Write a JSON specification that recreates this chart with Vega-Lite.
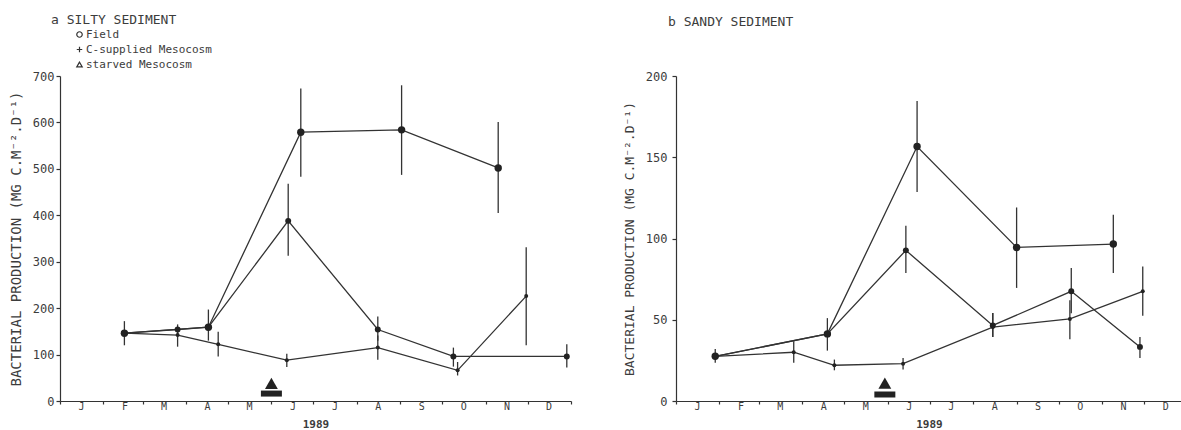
{
  "$schema": "https://vega.github.io/schema/vega-lite/v6.json",
  "background": "white",
  "padding": {"left": 9, "top": 13, "right": 0, "bottom": 0},
  "spacing": 105,
  "bounds": "flush",
  "resolve": {"scale": {"shape": "independent"}, "legend": {"shape": "independent"}},
  "config": {
    "view": {"stroke": null},
    "font": "DejaVu Sans Mono",
    "axis": {
      "grid": false,
      "domainColor": "#333",
      "domainWidth": 1.2,
      "tickColor": "#333",
      "tickWidth": 1.2,
      "labelColor": "#3c3c3c",
      "labelFont": "DejaVu Sans Mono",
      "labelFontSize": 11,
      "titleColor": "#3c3c3c",
      "titleFont": "DejaVu Sans Mono",
      "titleFontWeight": "normal"
    },
    "title": {
      "font": "DejaVu Sans Mono",
      "fontSize": 13,
      "fontWeight": "normal",
      "color": "#3c3c3c",
      "anchor": "start",
      "frame": "group"
    }
  },
  "datasets": {
    "silty": [
      {"series": "Field", "date": "1989-02-16", "value": 146, "lo": 120, "hi": 172},
      {"series": "Field", "date": "1989-04-17", "value": 159, "lo": 130, "hi": 197},
      {"series": "Field", "date": "1989-06-22", "value": 579, "lo": 483, "hi": 673},
      {"series": "Field", "date": "1989-09-02", "value": 584, "lo": 487, "hi": 680},
      {"series": "Field", "date": "1989-11-10", "value": 502, "lo": 405, "hi": 601},
      {"series": "C-supplied Mesocosm", "date": "1989-02-16", "value": 146, "lo": 146, "hi": 146},
      {"series": "C-supplied Mesocosm", "date": "1989-03-26", "value": 154, "lo": 140, "hi": 165},
      {"series": "C-supplied Mesocosm", "date": "1989-04-17", "value": 159, "lo": 159, "hi": 159},
      {"series": "C-supplied Mesocosm", "date": "1989-06-13", "value": 388, "lo": 313, "hi": 468},
      {"series": "C-supplied Mesocosm", "date": "1989-08-16", "value": 154, "lo": 130, "hi": 182},
      {"series": "C-supplied Mesocosm", "date": "1989-10-09", "value": 96, "lo": 74, "hi": 115},
      {"series": "C-supplied Mesocosm", "date": "1989-12-29", "value": 96, "lo": 72, "hi": 122},
      {"series": "starved Mesocosm", "date": "1989-02-16", "value": 146, "lo": 146, "hi": 146},
      {"series": "starved Mesocosm", "date": "1989-03-26", "value": 142, "lo": 117, "hi": 153},
      {"series": "starved Mesocosm", "date": "1989-04-24", "value": 122, "lo": 96, "hi": 149},
      {"series": "starved Mesocosm", "date": "1989-06-12", "value": 88, "lo": 73, "hi": 102},
      {"series": "starved Mesocosm", "date": "1989-08-16", "value": 115, "lo": 89, "hi": 141},
      {"series": "starved Mesocosm", "date": "1989-10-12", "value": 66, "lo": 55, "hi": 84},
      {"series": "starved Mesocosm", "date": "1989-11-30", "value": 226, "lo": 120, "hi": 331}
    ],
    "sandy": [
      {"series": "Field", "date": "1989-01-29", "value": 27.5, "lo": 23.5, "hi": 32},
      {"series": "Field", "date": "1989-04-19", "value": 41.3, "lo": 31, "hi": 51},
      {"series": "Field", "date": "1989-06-22", "value": 156.6, "lo": 128.6, "hi": 184.6},
      {"series": "Field", "date": "1989-09-01", "value": 94.5, "lo": 69.6, "hi": 119.1},
      {"series": "Field", "date": "1989-11-09", "value": 96.6, "lo": 78.8, "hi": 114.6},
      {"series": "C-supplied Mesocosm", "date": "1989-01-29", "value": 27.5, "lo": 27.5, "hi": 27.5},
      {"series": "C-supplied Mesocosm", "date": "1989-04-19", "value": 41.3, "lo": 41.3, "hi": 41.3},
      {"series": "C-supplied Mesocosm", "date": "1989-06-14", "value": 92.7, "lo": 78.8, "hi": 107.8},
      {"series": "C-supplied Mesocosm", "date": "1989-08-15", "value": 46.5, "lo": 39.4, "hi": 54.2},
      {"series": "C-supplied Mesocosm", "date": "1989-10-10", "value": 67.5, "lo": 54, "hi": 81.8},
      {"series": "C-supplied Mesocosm", "date": "1989-11-28", "value": 33.3, "lo": 26.5, "hi": 39.4},
      {"series": "starved Mesocosm", "date": "1989-01-29", "value": 27.5, "lo": 27.5, "hi": 27.5},
      {"series": "starved Mesocosm", "date": "1989-03-26", "value": 30, "lo": 23.5, "hi": 36.7},
      {"series": "starved Mesocosm", "date": "1989-04-24", "value": 22, "lo": 18.9, "hi": 25.5},
      {"series": "starved Mesocosm", "date": "1989-06-12", "value": 23, "lo": 19.4, "hi": 26.5},
      {"series": "starved Mesocosm", "date": "1989-08-15", "value": 45.5, "lo": 39.4, "hi": 54.2},
      {"series": "starved Mesocosm", "date": "1989-10-09", "value": 50.5, "lo": 38, "hi": 62},
      {"series": "starved Mesocosm", "date": "1989-11-30", "value": 67.5, "lo": 52.5, "hi": 82.8}
    ]
  },
  "hconcat": [
    {
      "width": 511,
      "height": 325,
      "title": {"text": "a SILTY SEDIMENT", "dx": -9, "offset": 2.5},
      "encoding": {
        "x": {
          "field": "date",
          "type": "temporal",
          "scale": {
            "type": "utc",
            "domain": [
              {"year": 1989, "month": 1, "date": 1, "utc": true},
              {"year": 1990, "month": 1, "date": 1, "utc": true}
            ]
          },
          "axis": {
            "title": "1989",
            "titleFontSize": 11,
            "titleFontWeight": "bold",
            "titlePadding": 7,
            "tickCount": {"interval": "month", "step": 1},
            "labelExpr": "utcyear(datum.value) > 1989 ? '' : upper(substring(utcFormat(datum.value, '%b'), 0, 1))",
            "labelOffset": 21,
            "labelFontSize": 10,
            "labelFlush": false,
            "labelOverlap": false,
            "labelBound": false,
            "labelPadding": -3,
            "tickSize": 3
          }
        }
      },
      "layer": [
        {
          "data": {"name": "silty"},
          "mark": {"type": "rule", "color": "#333", "strokeWidth": 1.3},
          "encoding": {
            "y": {
              "field": "lo",
              "type": "quantitative",
              "scale": {"domain": [0, 700], "nice": false},
              "axis": {
                "title": "BACTERIAL PRODUCTION (MG C.M⁻².D⁻¹)",
                "titleFontSize": 14,
                "titlePadding": 9,
                "values": [0, 100, 200, 300, 400, 500, 600, 700],
                "labelFontSize": 12,
                "tickSize": 4,
                "labelPadding": 2
              }
            },
            "y2": {"field": "hi"}
          }
        },
        {
          "data": {"name": "silty"},
          "mark": {"type": "line", "color": "#333", "strokeWidth": 1.3},
          "encoding": {
            "y": {"field": "value", "type": "quantitative"},
            "detail": {"field": "series"}
          }
        },
        {
          "data": {"name": "silty"},
          "mark": {"type": "point", "filled": true, "color": "#222", "opacity": 1},
          "encoding": {
            "y": {"field": "value", "type": "quantitative"},
            "size": {
              "field": "series",
              "scale": {"domain": ["Field", "C-supplied Mesocosm", "starved Mesocosm"], "range": [55, 16, 16]},
              "legend": null
            }
          }
        },
        {
          "data": {"name": "silty"},
          "mark": {"type": "point", "strokeOpacity": 0, "fillOpacity": 0},
          "encoding": {
            "y": {"field": "value", "type": "quantitative"},
            "shape": {
              "field": "series",
              "type": "nominal",
              "scale": {
                "domain": ["Field", "C-supplied Mesocosm", "starved Mesocosm"],
                "range": ["circle", "M-1,0L1,0M0,-1L0,1", "triangle-up"]
              },
              "legend": {
                "orient": "none",
                "legendX": 14,
                "legendY": -47,
                "title": null,
                "labelFont": "DejaVu Sans Mono",
                "labelFontSize": 11,
                "labelColor": "#3c3c3c",
                "labelOffset": 1,
                "symbolSize": 30,
                "symbolStrokeWidth": 1.2,
                "symbolStrokeColor": "#333",
                "symbolFillColor": "transparent",
                "symbolOpacity": 1,
                "rowPadding": 3
              }
            }
          }
        },
        {
          "data": {"values": [{"date": "1989-06-01"}]},
          "mark": {"type": "point", "shape": "triangle-up", "filled": true, "color": "#222", "opacity": 1, "size": 165},
          "encoding": {"y": {"datum": 38, "type": "quantitative"}}
        },
        {
          "data": {"values": [{"date": "1989-06-01"}]},
          "mark": {"type": "tick", "orient": "horizontal", "color": "#222", "opacity": 1, "size": 21, "thickness": 6},
          "encoding": {"y": {"datum": 16, "type": "quantitative"}}
        }
      ]
    },
    {
      "width": 506,
      "height": 325,
      "title": {"text": "b SANDY SEDIMENT", "dx": -8, "offset": 41.5},
      "encoding": {
        "x": {
          "field": "date",
          "type": "temporal",
          "scale": {
            "type": "utc",
            "domain": [
              {"year": 1989, "month": 1, "date": 1, "utc": true},
              {"year": 1989, "month": 12, "date": 28, "utc": true}
            ]
          },
          "axis": {
            "title": "1989",
            "titleFontSize": 11,
            "titleFontWeight": "bold",
            "titlePadding": 7,
            "tickCount": {"interval": "month", "step": 1},
            "labelExpr": "utcyear(datum.value) > 1989 ? '' : upper(substring(utcFormat(datum.value, '%b'), 0, 1))",
            "labelOffset": 21,
            "labelFontSize": 10,
            "labelFlush": false,
            "labelOverlap": false,
            "labelBound": false,
            "labelPadding": -3,
            "tickSize": 3
          }
        }
      },
      "layer": [
        {
          "data": {"name": "sandy"},
          "mark": {"type": "rule", "color": "#333", "strokeWidth": 1.3},
          "encoding": {
            "y": {
              "field": "lo",
              "type": "quantitative",
              "scale": {"domain": [0, 200], "nice": false},
              "axis": {
                "title": "BACTERIAL PRODUCTION (MG C.M⁻².D⁻¹)",
                "titleFontSize": 13,
                "titlePadding": 9,
                "values": [0, 50, 100, 150, 200],
                "labelFontSize": 12,
                "tickSize": 4,
                "labelPadding": 5
              }
            },
            "y2": {"field": "hi"}
          }
        },
        {
          "data": {"name": "sandy"},
          "mark": {"type": "line", "color": "#333", "strokeWidth": 1.3},
          "encoding": {
            "y": {"field": "value", "type": "quantitative"},
            "detail": {"field": "series"}
          }
        },
        {
          "data": {"name": "sandy"},
          "mark": {"type": "point", "filled": true, "color": "#222", "opacity": 1},
          "encoding": {
            "y": {"field": "value", "type": "quantitative"},
            "size": {
              "field": "series",
              "scale": {"domain": ["Field", "C-supplied Mesocosm", "starved Mesocosm"], "range": [55, 16, 16]},
              "legend": null
            }
          }
        },
        {
          "data": {"values": [{"date": "1989-05-30"}]},
          "mark": {"type": "point", "shape": "triangle-up", "filled": true, "color": "#222", "opacity": 1, "size": 165},
          "encoding": {"y": {"datum": 11, "type": "quantitative"}}
        },
        {
          "data": {"values": [{"date": "1989-05-30"}]},
          "mark": {"type": "tick", "orient": "horizontal", "color": "#222", "opacity": 1, "size": 21, "thickness": 6},
          "encoding": {"y": {"datum": 4, "type": "quantitative"}}
        }
      ]
    }
  ]
}
